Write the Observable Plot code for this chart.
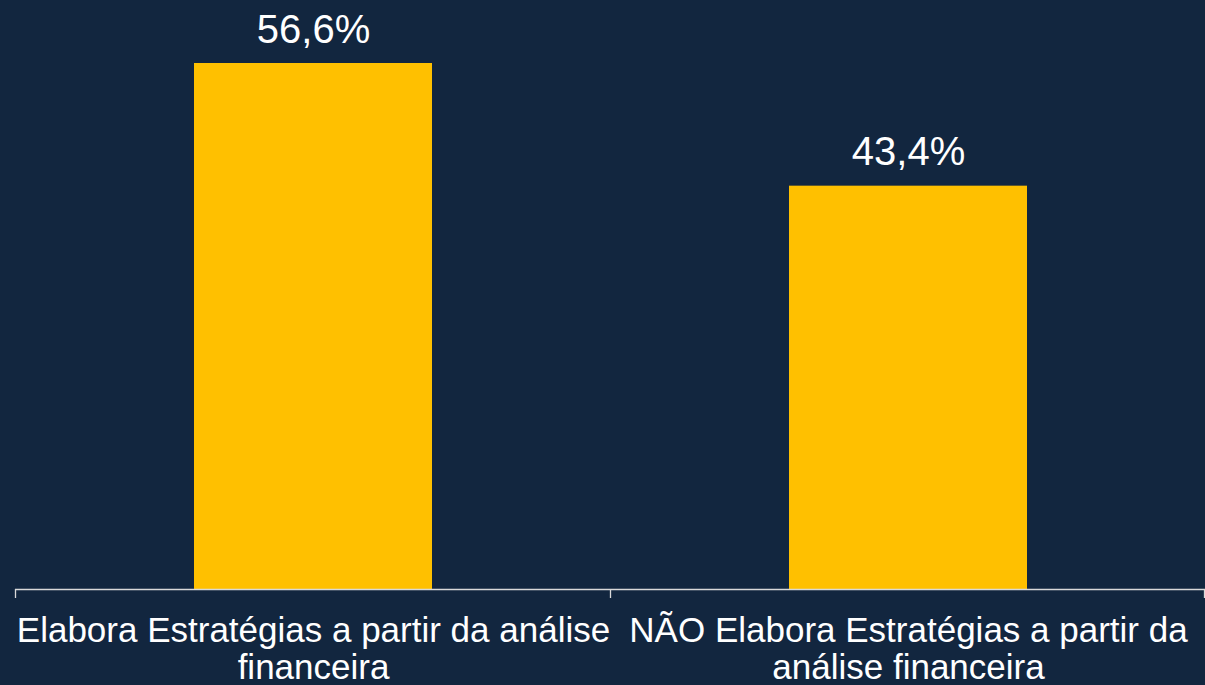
<!DOCTYPE html>
<html>
<head>
<meta charset="utf-8">
<script src="https://cdn.jsdelivr.net/npm/d3@7"></script>
<script src="https://cdn.jsdelivr.net/npm/@observablehq/plot@0.6"></script>
<style>
  html, body { margin: 0; padding: 0; background: #12263F; }
  #chart svg { display: block; }
</style>
</head>
<body>
<div id="chart"></div>
<script>
const categories = [
  "Elabora Estratégias a partir da análise\nfinanceira",
  "NÃO Elabora Estratégias a partir da\nanálise financeira"
];
const values = [56.6, 43.4];
const valueLabels = ["56,6%", "43,4%"];

const data = categories.map((c, i) => ({ category: c, value: values[i], label: valueLabels[i] }));

const bg = "#12263F";
const barColor = "#FFC000";
const font = "'Liberation Sans', Arial, sans-serif";

const chart = Plot.plot({
  width: 1205,
  height: 685,
  marginLeft: 15,
  marginRight: 0,
  marginTop: 63,
  marginBottom: 96,
  style: { background: bg, fontFamily: font, color: "#FFFFFF", overflow: "visible" },
  x: { domain: categories, paddingInner: 0.6, paddingOuter: 0.3, label: null },
  y: { domain: [0, 56.6], axis: null },
  marks: [
    Plot.barY(data, { x: "category", y: "value", fill: barColor }),
    Plot.ruleY([0], { stroke: "#D9D9D9", strokeWidth: 1.3 }),
    Plot.text(data, {
      x: "category", y: "value", text: "label",
      lineAnchor: "bottom", dy: -21, fontSize: 40, fill: "#FFFFFF", fontFamily: font
    }),
    Plot.axisX({
      tickSize: 0, tickPadding: 26, fontSize: 35, lineHeight: 1.06,
      fill: "#FFFFFF", fontFamily: font, label: null
    })
  ]
});

document.getElementById("chart").appendChild(chart);

// tick marks at category boundaries, derived from the x scale
const xs = chart.scale("x");
const step = xs.step;
const half = (step - xs.bandwidth) / 2;
const bounds = categories.map(c => xs.apply(c) - half);
bounds.push(xs.apply(categories[categories.length - 1]) + xs.bandwidth + half);
const y0 = chart.scale("y").apply(0);
d3.select(chart).append("g")
  .selectAll("line").data(bounds).join("line")
  .attr("x1", d => Math.min(d, 1204.5)).attr("x2", d => Math.min(d, 1204.5))
  .attr("y1", y0).attr("y2", y0 + 9)
  .attr("stroke", "#D9D9D9").attr("stroke-width", 1.3);
</script>
</body>
</html>
